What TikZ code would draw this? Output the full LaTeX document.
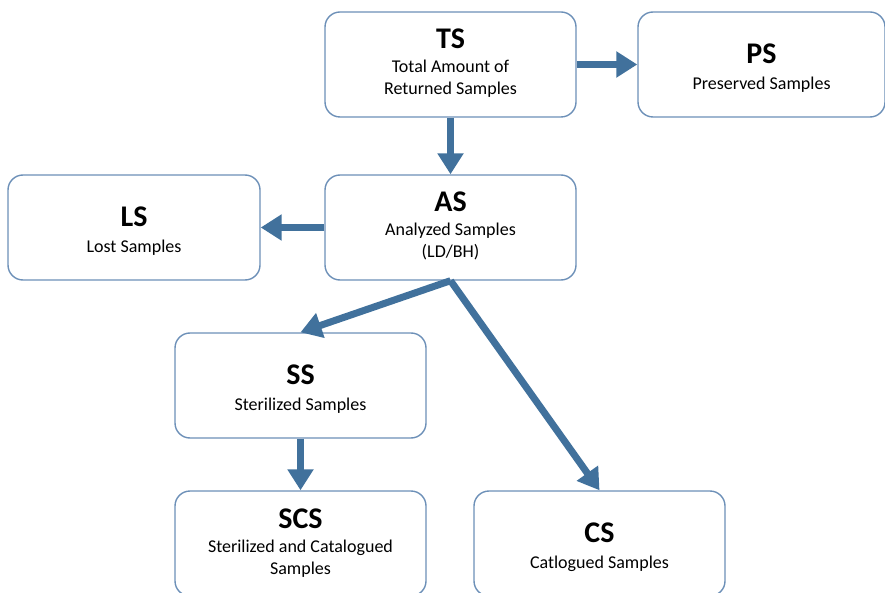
\documentclass[tikz,border=0pt]{standalone}
\usepackage{fontspec}
\setmainfont{Carlito}
\usetikzlibrary{arrows.meta}
\definecolor{boxline}{HTML}{6D90B8}
\definecolor{flow}{HTML}{41719C}
\tikzset{
  card/.style={draw=boxline, line width=1.4pt, rounded corners=15pt, fill=white,
    minimum width=251pt, minimum height=105pt, inner sep=0pt},
  cardtext/.style={align=center, inner sep=0pt, font=\fontsize{18}{22}\selectfont},
  flowarrow/.style={draw=flow, line width=7pt,
    -{Triangle[length=21pt,width=25pt]}},
}
\newcommand{\cardtitle}[1]{{\fontsize{30}{30}\selectfont\bfseries #1}}
\begin{document}
\begin{tikzpicture}[x=1pt,y=-1pt]
  \useasboundingbox (0,0) rectangle (885,593);
  \clip (0,0) rectangle (885,593);
  % boxes
  \node[card] (TS) at (450.5,64.5) {};
  \node[card, minimum width=247pt] (PS) at (761.5,64.5) {};
  \node[card] (AS) at (450.5,227.5) {};
  \node[card, minimum width=252pt] (LS) at (134,227.5) {};
  \node[card] (SS) at (300.5,385.5) {};
  \node[card] (SCS) at (300.5,543.5) {};
  \node[card] (CS) at (599.5,543.5) {};
  % box texts
  \node[cardtext] (TStext) at ([yshift=1.5pt]TS.center) {\cardtitle{TS}\\[2pt]Total Amount of\\Returned Samples};
  \node[cardtext] (PStext) at ([yshift=-4pt]PS.center) {\cardtitle{PS}\\[4pt]Preserved Samples};
  \node[cardtext] (AStext) at ([yshift=2pt]AS.center) {\cardtitle{AS}\\[2pt]Analyzed Samples\\(LD/BH)};
  \node[cardtext] (LStext) at ([yshift=-4pt]LS.center) {\cardtitle{LS}\\[4pt]Lost Samples};
  \node[cardtext] (SStext) at ([yshift=-4pt]SS.center) {\cardtitle{SS}\\[4pt]Sterilized Samples};
  \node[cardtext] (SCStext) at (SCS.center) {\cardtitle{SCS}\\[2pt]Sterilized and Catalogued\\Samples};
  \node[cardtext] (CStext) at ([yshift=-4pt]CS.center) {\cardtitle{CS}\\[4pt]Catlogued Samples};
  % connectors
  \draw[flowarrow] (TS.east) -- (PS.west);
  \draw[flowarrow] (TS.south) -- (AS.north);
  \draw[flowarrow] (AS.west) -- (LS.east);
  \draw[flowarrow] (AS.south) -- (SS.north);
  \draw[flowarrow] (AS.south) -- (CS.north);
  \draw[flowarrow] (SS.south) -- (SCS.north);
\end{tikzpicture}
\end{document}
